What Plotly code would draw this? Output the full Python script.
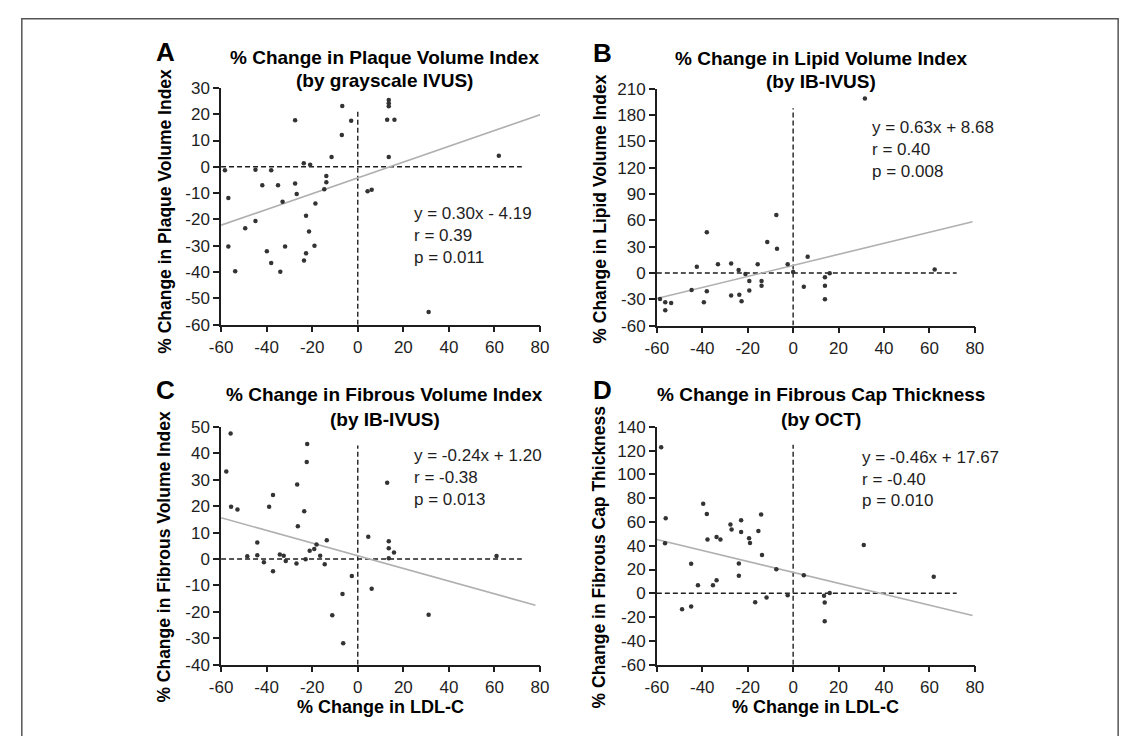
import plotly.graph_objects as go

# ---------------- data ----------------
a_x = [-58.3, -56.8, -56.8, -53.8, -49.4, -44.9, -44.9, -41.9, -39.9, -38.0, -38.0, -35.0, -34.0, -33.0, -31.9,
       -27.5, -27.5, -26.8, -23.7, -23.6, -22.7, -22.7, -21.4, -20.9, -19.0, -18.6, -14.7, -13.8, -13.8, -11.5,
       -7.0, -6.8, -2.9, 13.6, 13.6, 13.6, 12.9, 16.1, 13.6, 4.3, 6.1, 61.9, 31.1]
a_y = [-1.3, -11.9, -30.3, -39.7, -23.4, -1.1, -20.6, -7.0, -32.1, -1.3, -36.6, -7.0, -39.9, -13.3, -30.3,
       17.7, -6.3, -10.3, 1.4, -35.6, -18.6, -32.9, -24.6, 0.8, -30.0, -13.9, -8.5, -3.5, -5.9, 3.7,
       12.1, 23.1, 17.5, 25.4, 24.2, 23.0, 17.9, 17.9, 3.7, -9.3, -8.7, 4.2, -55.2]

b_x = [-58.6, -56.3, -56.3, -53.7, -44.7, -42.4, -39.3, -38.0, -38.0, -33.1, -27.3, -27.3, -24.0, -23.7, -22.7,
       -21.0, -19.3, -19.3, -15.6, -13.9, -13.9, -11.4, -7.4, -7.1, -2.4, 0.0, 6.4, 4.7, 14.0, 14.0, 14.0, 16.1,
       62.3, 31.6]
b_y = [-29.6, -33.3, -42.6, -34.1, -19.3, 7.0, -33.3, 46.5, -20.8, 9.9, 10.7, -25.6, 3.3, -24.8, -32.2,
       -1.1, -9.2, -20.0, 9.9, -9.2, -14.5, 35.4, 66.1, 27.7, 9.9, 1.0, 18.4, -15.6, -4.9, -14.5, -30.0, -0.4,
       4.0, 198.9]

c_x = [-57.7, -55.8, -55.6, -52.8, -48.5, -44.1, -44.1, -41.2, -38.9, -37.2, -37.2, -34.2, -32.5, -31.6, -26.9,
       -26.6, -26.3, -23.5, -22.9, -22.4, -22.2, -21.1, -19.1, -18.1, -16.5, -14.5, -13.6, -11.2, -6.7, -6.4,
       -2.6, 4.6, 6.1, 12.9, 13.6, 13.6, 15.9, 13.6, 60.9, 31.1]
c_y = [33.1, 47.5, 19.8, 18.7, 1.0, 6.2, 1.4, -1.2, 19.8, 24.2, -4.6, 1.7, 1.2, -0.8, -1.7,
       28.2, 12.4, 18.1, -0.1, 36.7, 43.5, 3.1, 3.8, 5.5, 1.2, -2.0, 7.1, -21.3, -13.3, -31.9,
       -6.4, 8.4, -11.3, 28.9, 6.7, 4.1, 2.5, 0.3, 1.1, -21.1]

d_x = [-58.1, -56.1, -56.4, -48.9, -44.9, -44.9, -41.9, -39.6, -38.0, -37.7, -35.3, -33.7, -33.7, -32.0, -27.6,
       -27.1, -23.9, -23.9, -22.9, -22.9, -19.4, -19.0, -16.7, -15.3, -14.1, -13.7, -11.7, -7.4, -2.4, 4.7,
       13.6, 13.9, 13.9, 16.1, 31.1, 61.9]
d_y = [122.8, 63.1, 42.1, -13.5, 24.8, -11.0, 6.8, 75.4, 66.7, 45.3, 6.8, 11.1, 47.3, 45.3, 57.9,
       53.8, 25.1, 14.7, 61.5, 51.6, 46.4, 42.3, -7.5, 52.4, 66.4, 32.2, -3.6, 20.2, -1.7, 15.2,
       -2.0, -7.7, -23.6, 0.2, 40.7, 13.9]

letters = ["A", "B", "C", "D"]
titles = ["% Change in Plaque Volume Index", "% Change in Lipid Volume Index",
          "% Change in Fibrous Volume Index", "% Change in Fibrous Cap Thickness"]
subtitles = ["(by grayscale IVUS)", "(by IB-IVUS)", "(by IB-IVUS)", "(by OCT)"]
y_titles = ["% Change in Plaque Volume Index", "% Change in Lipid Volume Index",
            "% Change in Fibrous Volume Index", "% Change in Fibrous Cap Thickness"]
x_title = "% Change in LDL-C"
slopes = [0.30, 0.63, -0.24, -0.46]
intercepts = [-4.19, 8.68, 1.20, 17.67]
fit_x_end = [85, 79, 78, 79]
eq_text = ["y = 0.30x - 4.19", "y = 0.63x + 8.68", "y = -0.24x + 1.20", "y = -0.46x + 17.67"]
r_text = ["r = 0.39", "r = 0.40", "r = -0.38", "r = -0.40"]
p_text = ["p = 0.011", "p = 0.008", "p = 0.013", "p = 0.010"]
x_ticks = [-60, -40, -20, 0, 20, 40, 60, 80]
y_ticks = [list(range(-60, 31, 10)), list(range(-60, 211, 30)),
           list(range(-40, 51, 10)), list(range(-60, 141, 20))]

# ---------------- layout geometry (pixels) ----------------
W, H = 1135, 736
FONT = "Liberation Sans, Arial, Helvetica, sans-serif"
INK = "#1e1e1e"

def px(x):
    return x / W

def py(y):
    return 1 - y / H

panels = [
    dict(xd=(213, 538), yd=(81, 324), letter=(156, 44), title=(380, 50, 73), ytitle=(155, 208)),
    dict(xd=(657, 981), yd=(82, 325), letter=(602, 45), title=(824, 51, 74), ytitle=(599, 205)),
    dict(xd=(213, 538), yd=(429, 673), letter=(156, 391), title=(380, 396, 421), ytitle=(155, 562)),
    dict(xd=(657, 981), yd=(429, 673), letter=(602, 391), title=(824, 396, 421), ytitle=(599, 562)),
]
xs_all = [a_x, b_x, c_x, d_x]
ys_all = [a_y, b_y, c_y, d_y]
vdash_top = [22, 188, 43, 125]
hdash_end = 72
text_pos = [(408, 210), (874, 122), (408, 458), (864, 460)]

fig = go.Figure()
layout = dict(width=W, height=H, margin=dict(l=0, r=0, t=0, b=0),
              paper_bgcolor="white", plot_bgcolor="white", showlegend=False,
              font=dict(family=FONT, color=INK))
annotations = []
shapes = []

for i, p in enumerate(panels):
    n = "" if i == 0 else str(i + 1)
    xa, ya = "x" + n, "y" + n
    yt = y_ticks[i]
    common = dict(showgrid=False, zeroline=False, showline=True, linecolor=INK, linewidth=1.6,
                  ticks="outside", ticklen=6, tickwidth=1.5, tickcolor=INK,
                  tickfont=dict(size=17, family=FONT, color=INK))
    layout["xaxis" + n] = dict(domain=[px(p["xd"][0]), px(p["xd"][1])], range=[-60, 80],
                               tickvals=x_ticks, ticktext=[str(v) for v in x_ticks], anchor=ya, **common)
    layout["yaxis" + n] = dict(domain=[py(p["yd"][1]), py(p["yd"][0])], range=[yt[0], yt[-1]],
                               tickvals=yt, ticktext=[str(v) for v in yt], anchor=xa, **common)
    # zero reference lines
    fig.add_trace(go.Scatter(x=[-60, hdash_end], y=[0, 0], mode="lines", xaxis=xa, yaxis=ya,
                             line=dict(color=INK, width=1.4, dash="5px,3px"), hoverinfo="skip"))
    fig.add_trace(go.Scatter(x=[0, 0], y=[yt[0], vdash_top[i]], mode="lines", xaxis=xa, yaxis=ya,
                             line=dict(color=INK, width=1.4, dash="5px,3px"), hoverinfo="skip"))
    # regression line
    rx = [-60, fit_x_end[i]]
    ry = [slopes[i] * v + intercepts[i] for v in rx]
    fig.add_trace(go.Scatter(x=rx, y=ry, mode="lines", xaxis=xa, yaxis=ya,
                             line=dict(color="#b0b0b0", width=1.6), cliponaxis=False))
    # points
    fig.add_trace(go.Scatter(x=xs_all[i], y=ys_all[i], mode="markers", xaxis=xa, yaxis=ya,
                             marker=dict(size=4.5, color="#333333"), cliponaxis=False))

    lx, ly = p["letter"]
    annotations.append(dict(text="<b>" + letters[i] + "</b>", x=px(lx), y=py(ly),
                            xref="paper", yref="paper", xanchor="center", yanchor="middle",
                            showarrow=False, font=dict(size=26, family=FONT, color="black")))
    tcx, t1, t2 = p["title"]
    annotations.append(dict(text="<b>" + titles[i] + "</b>", x=px(tcx), y=py(t1),
                            xref="paper", yref="paper", xanchor="center", yanchor="middle",
                            showarrow=False, font=dict(size=19, family=FONT, color="black")))
    annotations.append(dict(text="<b>" + subtitles[i] + "</b>", x=px(tcx), y=py(t2),
                            xref="paper", yref="paper", xanchor="center", yanchor="middle",
                            showarrow=False, font=dict(size=19, family=FONT, color="black")))
    yx, yy = p["ytitle"]
    annotations.append(dict(text="<b>" + y_titles[i] + "</b>", x=px(yx), y=py(yy),
                            xref="paper", yref="paper", xanchor="center", yanchor="middle",
                            textangle=-90, showarrow=False, font=dict(size=17.5, family=FONT, color="black")))
    if i >= 2:
        cx = (p["xd"][0] + p["xd"][1]) / 2
        annotations.append(dict(text="<b>" + x_title + "</b>", x=px(cx), y=py(717),
                                xref="paper", yref="paper", xanchor="center", yanchor="middle",
                                showarrow=False, font=dict(size=18, family=FONT, color="black")))
    tx, ty = text_pos[i]
    for k, t in enumerate([eq_text[i], r_text[i], p_text[i]]):
        annotations.append(dict(text=t, x=px(tx), y=py(ty + 22.5 * k), xref="paper", yref="paper",
                                xanchor="left", yanchor="middle", showarrow=False,
                                font=dict(size=17, family=FONT, color=INK)))

shapes.append(dict(type="rect", xref="paper", yref="paper", x0=px(10), x1=px(1127), y0=py(760), y1=py(10),
                   line=dict(color="#555555", width=1.5), fillcolor="rgba(0,0,0,0)"))
layout["annotations"] = annotations
layout["shapes"] = shapes
fig.update_layout(**layout)
fig.write_html("out.html", config={"displayModeBar": False},
               post_script="document.body.style.margin='0';document.body.style.overflow='hidden';")
